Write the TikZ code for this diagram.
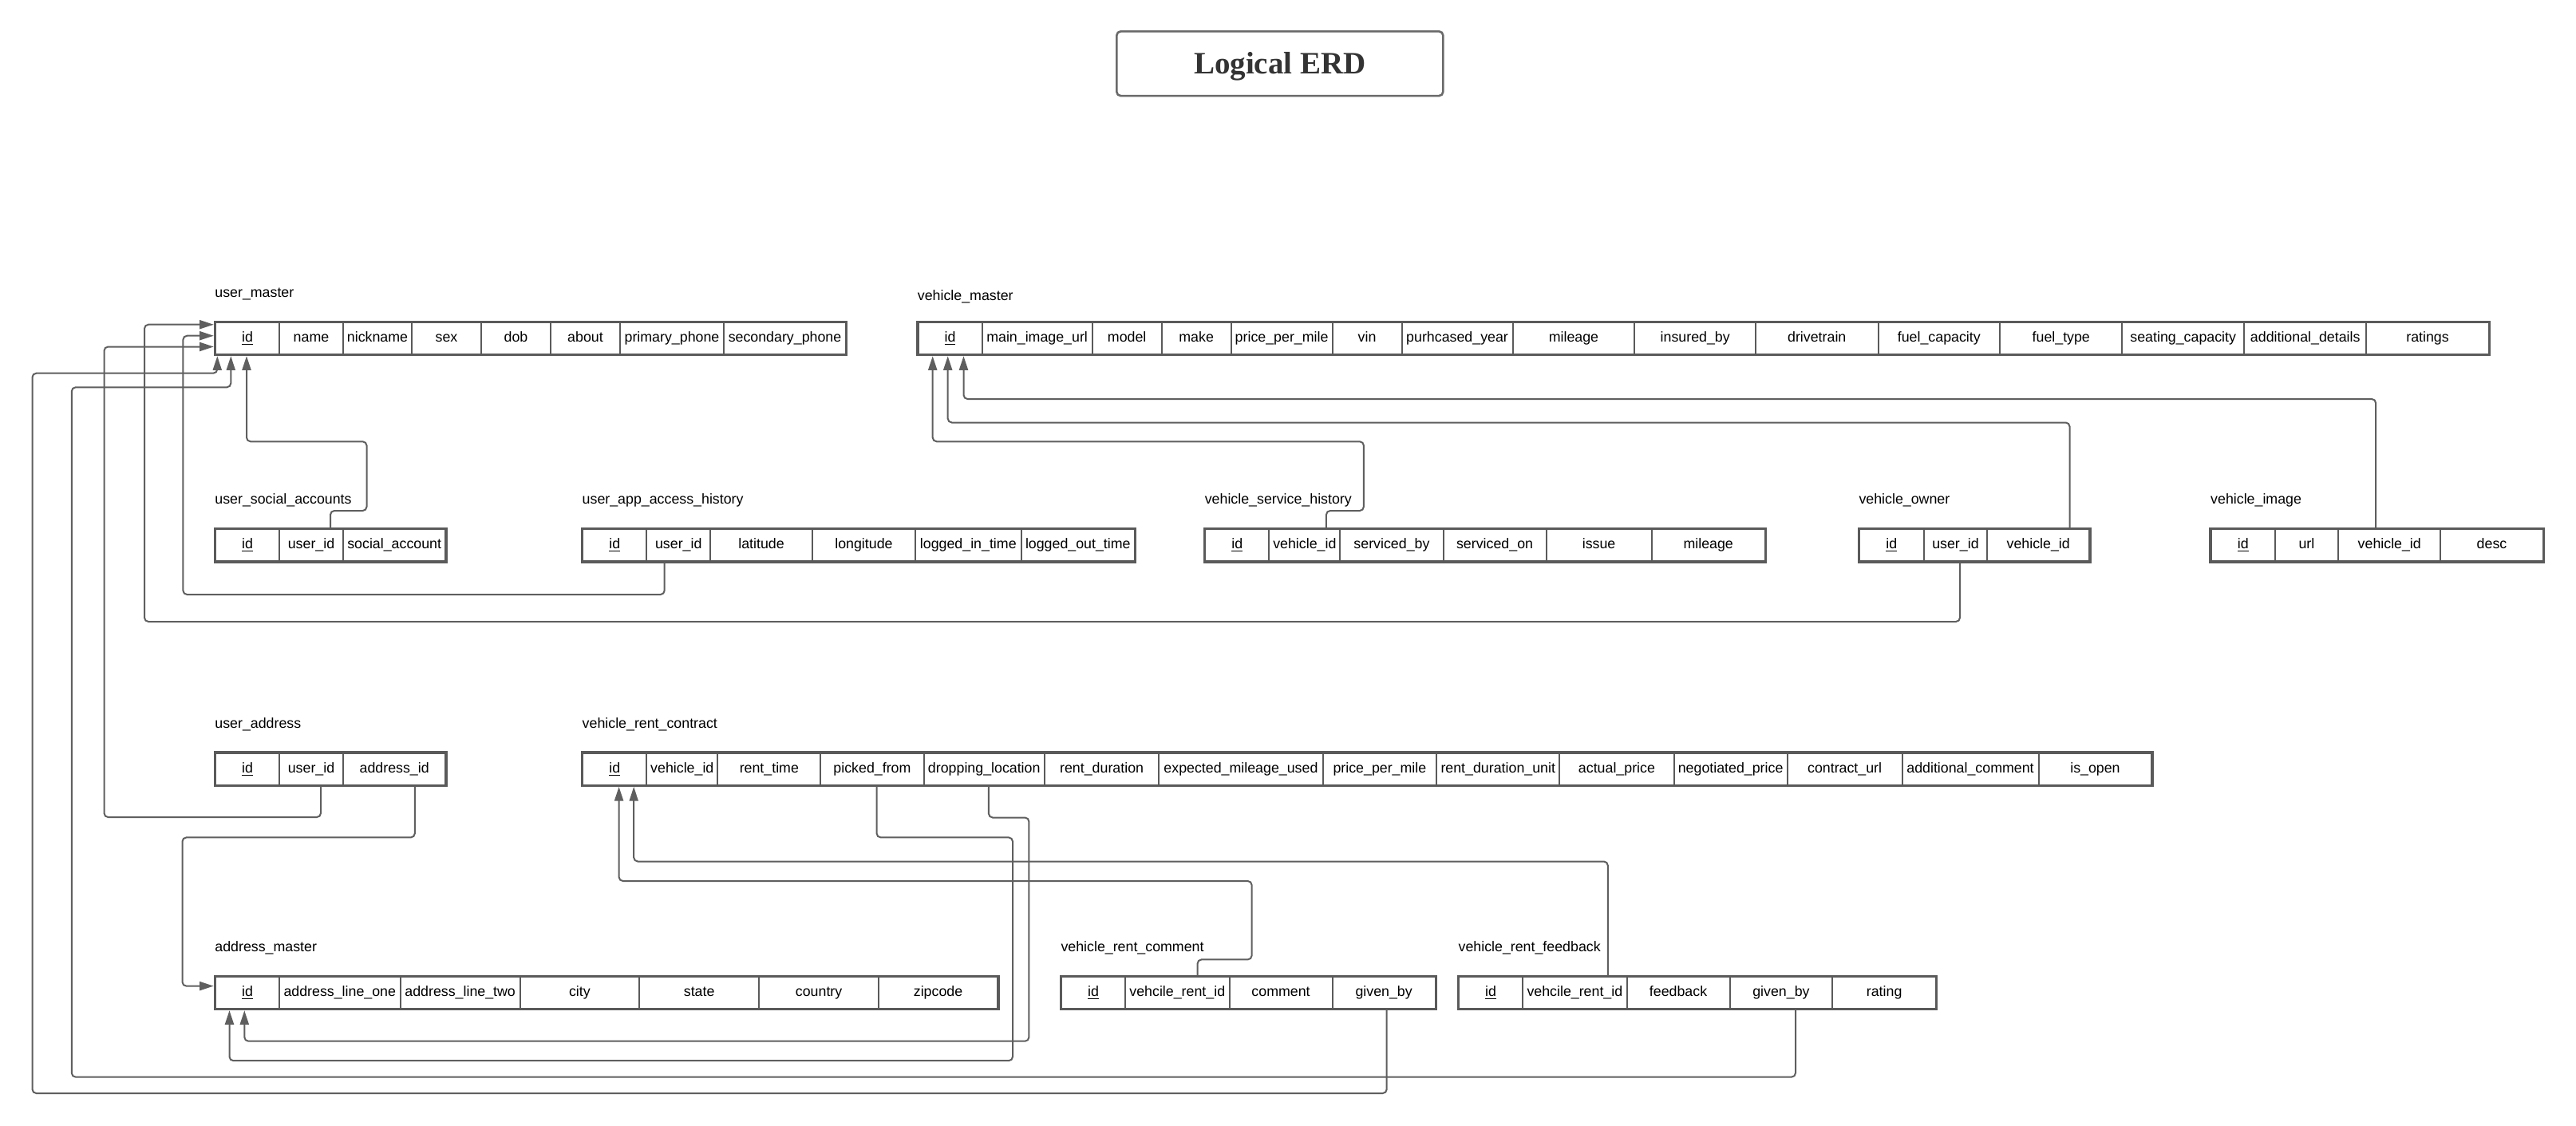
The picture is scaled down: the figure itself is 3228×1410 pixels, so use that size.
\documentclass[tikz,border=0pt]{standalone}
\usepackage{fontspec}
\setmainfont{Liberation Sans}
\newfontfamily\titlefont{Liberation Serif}
\usetikzlibrary{arrows.meta}
\definecolor{lncol}{HTML}{5F5F5F}
\definecolor{bdcol}{HTML}{5A5A5A}
\definecolor{titlebd}{HTML}{6A6A6A}
\definecolor{titletxt}{HTML}{333333}
\tikzset{
  cell/.style={draw=bdcol, line width=1pt, inner sep=0pt, minimum height=20pt,
    text height=6.4pt, text depth=1.9pt, font=\fontsize{8.9}{10}\selectfont, text=black},
  tblframe/.style={draw=bdcol, line width=1.4pt},
  lbl/.style={inner sep=0pt, font=\fontsize{8.9}{10}\selectfont, text=black, anchor=base west},
  conn/.style={draw=lncol, line width=1pt, rounded corners=2.5pt, shorten >=0.6pt,
    -{Triangle[length=8.8pt,width=5.5pt]}},
  titlebox/.style={draw=titlebd, line width=1.3pt, rounded corners=2.5pt,
    minimum width=204.5pt, minimum height=40.35pt, inner sep=0pt,
    text height=12.9pt, text depth=0pt, text=titletxt,
    font=\titlefont\bfseries\fontsize{19.5}{22}\selectfont}
}
% #1 prefix, #2 top (px), #3 label raise, #4 label, #5 number of columns, #6 list left/right/text
\newcommand\erdtable[6]{%
  \foreach \ca/\cb/\ctext [count=\ci] in {#6} {
    \node[cell, minimum width={(\cb-\ca)*0.5pt}] (#1-\ci) at ({(\ca+\cb)/2},{#2+20}) {\ctext};
  }
  \draw[tblframe] (#1-1.north west) rectangle (#1-#5.south east);
  \node[lbl] (#1-lbl) at ([yshift=#3]#1-1.north west) {#4};
}
\begin{document}
\begin{tikzpicture}[x=0.5pt,y=-0.5pt]
\fill[white] (0,0) rectangle (3228,1410);
\useasboundingbox (0,0) rectangle (3228,1410);

\node[titlebox] (title) at (1603.8,79.7) {Logical ERD};

% row 1
\erdtable{um}{404}{15.35pt}{user\_master}{8}{270/350/\underline{id}, 350/430/name, 430/516/nickname, 516/603/sex, 603/690/dob, 690/777/about, 777/907/primary\_phone, 907/1060/secondary\_phone}
\erdtable{vm}{404}{13.5pt}{vehicle\_master}{15}{1150.5/1230.5/\underline{id}, 1230.5/1368.7/main\_image\_url, 1368.7/1455.7/model, 1455.7/1542.6/make, 1542.6/1669.6/price\_per\_mile, 1669.6/1756.6/vin, 1756.6/1895.5/purhcased\_year, 1895.5/2048.4/mileage, 2048.4/2200/insured\_by, 2200/2353.5/drivetrain, 2353.5/2506.1/fuel\_capacity, 2506.1/2659.4/fuel\_type, 2659.4/2812/seating\_capacity, 2812/2965.4/additional\_details, 2965.4/3118.7/ratings}

% row 2
\erdtable{usa}{663.3}{15.35pt}{user\_social\_accounts}{3}{270/350/\underline{id}, 350/430/user\_id, 430/558.4/social\_account}
\erdtable{uaah}{663.3}{15.35pt}{user\_app\_access\_history}{6}{730.3/810.3/\underline{id}, 810.3/890.2/user\_id, 890.2/1017.9/latitude, 1017.9/1147/longitude, 1147/1279.6/logged\_in\_time, 1279.6/1422/logged\_out\_time}
\erdtable{vsh}{663.3}{15.35pt}{vehicle\_service\_history}{6}{1510.4/1590.3/\underline{id}, 1590.3/1679.4/vehicle\_id, 1679.4/1808.5/serviced\_by, 1808.5/1937.6/serviced\_on, 1937.6/2069.5/issue, 2069.5/2211.9/mileage}
\erdtable{vo}{663.3}{15.35pt}{vehicle\_owner}{3}{2330.1/2410.6/\underline{id}, 2410.6/2490.3/user\_id, 2490.3/2618.2/vehicle\_id}
\erdtable{vi}{663.3}{15.35pt}{vehicle\_image}{4}{2770.8/2850.6/\underline{id}, 2850.6/2930.3/url, 2930.3/3058.2/vehicle\_id, 3058.2/3186.8/desc}

% row 3
\erdtable{ua}{943.7}{15.35pt}{user\_address}{3}{270/350/\underline{id}, 350/430/user\_id, 430/558.4/address\_id}
\erdtable{vrc}{943.7}{15.35pt}{vehicle\_rent\_contract}{14}{730.3/810.3/\underline{id}, 810.3/899.3/vehicle\_id, 899.3/1028.4/rent\_time, 1028.4/1157.5/picked\_from, 1157.5/1309/dropping\_location, 1309/1452.2/rent\_duration, 1452.2/1657.7/expected\_mileage\_used, 1657.7/1800.1/price\_per\_mile, 1800.1/1954.4/rent\_duration\_unit, 1954.4/2097.5/actual\_price, 2097.5/2239.7/negotiated\_price, 2239.7/2383.5/contract\_url, 2383.5/2554.5/additional\_comment, 2554.5/2696.4/is\_open}

% row 4
\erdtable{am}{1224}{15.35pt}{address\_master}{7}{270/350/\underline{id}, 350/501.6/address\_line\_one, 501.6/651.7/address\_line\_two, 651.7/801.1/city, 801.1/951.2/state, 951.2/1101/country, 1101/1250.1/zipcode}
\erdtable{vrcm}{1224}{15.35pt}{vehicle\_rent\_comment}{4}{1330.1/1410.1/\underline{id}, 1410.1/1540.5/vehcile\_rent\_id, 1540.5/1669.6/comment, 1669.6/1798.7/given\_by}
\erdtable{vrf}{1224}{15.35pt}{vehicle\_rent\_feedback}{5}{1828.2/1908.1/\underline{id}, 1908.1/2038.6/vehcile\_rent\_id, 2038.6/2167.5/feedback, 2167.5/2296.4/given\_by, 2296.4/2425.9/rating}

% connectors
\draw[conn] (414,0 |- usa-2.north) -- (414,640) -- (459.5,640) -- (459.5,553.3) -- (309,553.3) -- (309,0 |- um-1.south);
\draw[conn] (832.7,0 |- uaah-2.south) -- (832.7,745) -- (229.4,745) -- (229.4,420.7) -- (um-1.west |- 0,420.7);
\draw[conn] (2456,0 |- vo-2.south) -- (2456,779) -- (181,779) -- (181,406.7) -- (um-1.west |- 0,406.7);
\draw[conn] (402,0 |- ua-2.south) -- (402,1024) -- (130.5,1024) -- (130.5,434.5) -- (um-1.west |- 0,434.5);
\draw[conn] (1737.7,0 |- vrcm-4.south) -- (1737.7,1370) -- (40.5,1370) -- (40.5,467.7) -- (272.3,467.7) -- (272.3,0 |- um-1.south);
\draw[conn] (2250,0 |- vrf-4.south) -- (2250,1349.6) -- (89.8,1349.6) -- (89.8,485.3) -- (289.3,485.3) -- (289.3,0 |- um-1.south);
\draw[conn] (519.8,0 |- ua-3.south) -- (519.8,1049.4) -- (228.5,1049.4) -- (228.5,1235.6) -- (am-1.west |- 0,1235.6);
\draw[conn] (1238.9,0 |- vrc-5.south) -- (1238.9,1024.5) -- (1289.4,1024.5) -- (1289.4,1304.7) -- (306.3,1304.7) -- (306.3,0 |- am-1.south);
\draw[conn] (1098.6,0 |- vrc-4.south) -- (1098.6,1049.4) -- (1269,1049.4) -- (1269,1329.2) -- (287.5,1329.2) -- (287.5,0 |- am-1.south);
\draw[conn] (1500.6,0 |- vrcm-2.north) -- (1500.6,1202.4) -- (1568.6,1202.4) -- (1568.6,1104) -- (775.6,1104) -- (775.6,0 |- vrc-1.south);
\draw[conn] (2014.8,0 |- vrf-2.north) -- (2014.8,1079.5) -- (794.2,1079.5) -- (794.2,0 |- vrc-1.south);
\draw[conn] (1661.9,0 |- vsh-2.north) -- (1661.9,640) -- (1708.9,640) -- (1708.9,553.3) -- (1168.7,553.3) -- (1168.7,0 |- vm-1.south);
\draw[conn] (2593.5,0 |- vo-3.north) -- (2593.5,529.5) -- (1187.7,529.5) -- (1187.7,0 |- vm-1.south);
\draw[conn] (2977.1,0 |- vi-3.north) -- (2977.1,500) -- (1207.5,500) -- (1207.5,0 |- vm-1.south);
\end{tikzpicture}
\end{document}
